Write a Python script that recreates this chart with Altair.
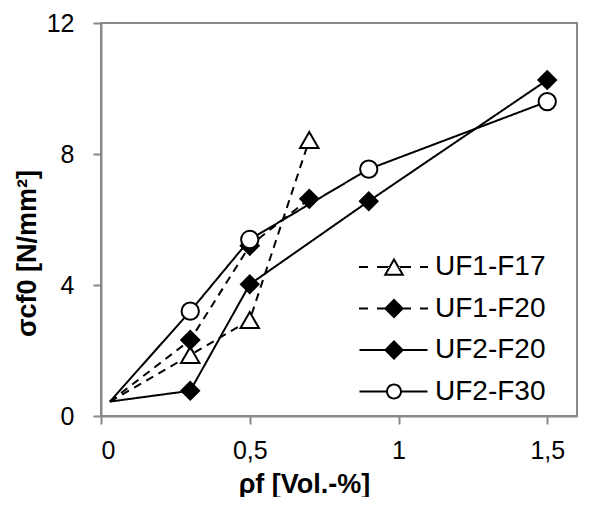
import altair as alt
import pandas as pd

series_names = ["UF1-F17", "UF1-F20", "UF2-F20", "UF2-F30"]

uf1_f17_x = [0.03, 0.3, 0.5, 0.7]
uf1_f17_y = [0.44, 1.86, 2.93, 8.43]
uf1_f20_x = [0.03, 0.3, 0.5, 0.7]
uf1_f20_y = [0.44, 2.32, 5.2, 6.63]
uf2_f20_x = [0.03, 0.3, 0.5, 0.9, 1.5]
uf2_f20_y = [0.44, 0.77, 4.02, 6.56, 10.26]
uf2_f30_x = [0.03, 0.3, 0.5, 0.9, 1.5]
uf2_f30_y = [0.44, 3.2, 5.39, 7.54, 9.6]

x_ticks = [0, 0.5, 1, 1.5]
y_ticks = [0, 4, 8, 12]

rows = []
for name, xs, ys in [
    ("UF1-F17", uf1_f17_x, uf1_f17_y),
    ("UF1-F20", uf1_f20_x, uf1_f20_y),
    ("UF2-F20", uf2_f20_x, uf2_f20_y),
    ("UF2-F30", uf2_f30_x, uf2_f30_y),
]:
    for i, (xv, yv) in enumerate(zip(xs, ys)):
        rows.append({"series": name, "x": xv, "y": yv, "idx": i, "marked": i > 0})
df = pd.DataFrame(rows)

FONT = "Liberation Sans"
GRAY = "#898989"

x_enc = alt.X("x:Q", scale=alt.Scale(domain=[0, 1.5]),
              axis=alt.Axis(values=x_ticks, format="~g",
                            labelExpr="replace(datum.label, '.', ',')",
                            title="ρf [Vol.-%]", grid=False,
                            titleX=203, titleY=55, titleBaseline="top"))
y_enc = alt.Y("y:Q", scale=alt.Scale(domain=[0, 12]),
              axis=alt.Axis(values=y_ticks, title="σcf0 [N/mm²]", grid=False,
                            titleX=-60, titleY=230))

dash_scale = alt.Scale(domain=series_names, range=[[8, 6], [8, 6], [1, 0], [1, 0]])
lines = alt.Chart(df).mark_line(color="black", strokeWidth=2).encode(
    x=x_enc, y=y_enc,
    strokeDash=alt.StrokeDash("series:N", scale=dash_scale, legend=None),
    detail="series:N",
    order="idx:Q",
)

shape_scale = alt.Scale(domain=series_names,
                        range=["triangle-up", "diamond", "diamond", "circle"])
fill_scale = alt.Scale(domain=series_names, range=["white", "black", "black", "white"])
size_scale = alt.Scale(domain=series_names, range=[340, 300, 300, 144])

points = alt.Chart(df).transform_filter("datum.marked").mark_point(
    filled=True, stroke="black", strokeWidth=2, opacity=1
).encode(
    x="x:Q", y="y:Q",
    shape=alt.Shape("series:N", scale=shape_scale, legend=None),
    fill=alt.Fill("series:N", scale=fill_scale, legend=None),
    size=alt.Size("series:N", scale=size_scale, legend=None),
)

# legend glyphs drawn as filled outlines (units: 1 = 10px at symbolSize 400)
tri_ring = ("M0,-0.95L-1.05,0.87L1.05,0.87Z"
            "M0,-0.55L0.7035,0.67L-0.7035,0.67Z")
dia_fill = "M-1.0,0L0,-1.0L1.0,0L0,1.0Z"
circ_ring = ("M-0.8,0A0.8,0.8 0 1,1 0.8,0A0.8,0.8 0 1,1 -0.8,0Z"
             "M-0.6,0A0.6,0.6 0 1,0 0.6,0A0.6,0.6 0 1,0 -0.6,0Z")


def seg(a, b):
    return f"M{a},-0.1H{b}V0.1H{a}Z"


dashed_tri = seg(-3.5, -2.6) + seg(-1.7, -0.5) + seg(0.5, 1.7) + seg(2.6, 3.4)
dashed_dia = seg(-3.5, -2.6) + seg(-1.7, -0.9) + seg(0.9, 1.7) + seg(2.6, 3.4)
solid_dia = seg(-3.45, -0.9) + seg(0.9, 3.35)
solid_circ = seg(-3.45, -0.7) + seg(0.7, 3.35)
legend_paths = [
    dashed_tri + tri_ring,
    dashed_dia + dia_fill,
    solid_dia + dia_fill,
    solid_circ + circ_ring,
]

legend_layer = alt.Chart(df).transform_filter("false").mark_point(
    filled=True, color="black", opacity=1, strokeWidth=0
).encode(
    x="x:Q", y="y:Q",
    shape=alt.Shape("series:N", scale=alt.Scale(domain=series_names, range=legend_paths),
                    legend=alt.Legend(title=None, orient="none", legendX=279, legendY=230,
                                      symbolSize=400, symbolStrokeWidth=0,
                                      symbolFillColor="black",
                                      labelFont=FONT, labelFontSize=28,
                                      labelOffset=27, rowPadding=13.5,
                                      labelColor="black")),
)

chart = alt.layer(lines, points, legend_layer).resolve_scale(
    shape="independent"
).properties(
    width=476, height=393,
    autosize=alt.AutoSizeParams(type="none"),
    padding={"left": 93, "top": 15, "right": 13, "bottom": 81},
).configure_view(
    stroke=GRAY, strokeWidth=2
).configure_axis(
    domainColor=GRAY, domainWidth=2, tickColor=GRAY, tickWidth=2, tickSize=8,
    labelFont=FONT, labelFontSize=25, labelColor="black",
    titleFont=FONT, titleFontSize=27, titleFontWeight="bold", titleColor="black",
).configure_axisY(labelPadding=19).configure_axisX(labelPadding=14)

chart.save("out.html", embed_options={"renderer": "svg", "actions": False})
